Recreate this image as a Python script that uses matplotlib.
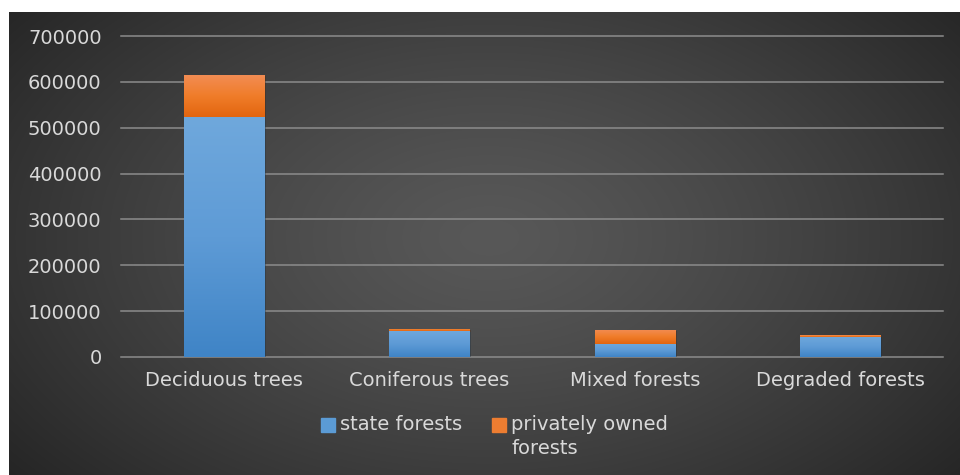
import numpy as np
import matplotlib
matplotlib.use("Agg")
import matplotlib.pyplot as plt
from matplotlib.patches import Rectangle
from matplotlib.colors import LinearSegmentedColormap
import matplotlib.patheffects as pe

# Forest area by type and ownership
categories = ["Deciduous trees", "Coniferous trees", "Mixed forests", "Degraded forests"]
state_forests = [523000, 57000, 28500, 44300]
private_forests = [93000, 4500, 31000, 2800]
yticks = [0, 100000, 200000, 300000, 400000, 500000, 600000, 700000]

text_color = "#d9d9d9"
font = "DejaVu Sans"
fsize = 14

fig = plt.figure(figsize=(9.6, 4.75), dpi=100, facecolor="white")

# dark panel with a soft radial highlight
bg = fig.add_axes([9 / 960, 0, 1 - 9 / 960, 1 - 12 / 475])
bg.set_axis_off()
h, w = 463, 951
yy, xx = np.mgrid[0:h, 0:w]
r = np.sqrt(((xx - 480) / 620.0) ** 2 + ((yy - 225) / 380.0) ** 2)
shade = 0.345 - (0.345 - 0.145) * np.clip(r, 0, 1) ** 1.3
bg.imshow(np.dstack([shade] * 3), extent=[0, 1, 0, 1], aspect="auto", origin="upper")

ax = fig.add_axes([121 / 960, 1 - 357 / 475, (943 - 121) / 960, (357 - 36) / 475])
ax.patch.set_alpha(0)

x = np.arange(len(categories))
width = 0.39
blue = ax.bar(x, state_forests, width, color="#5b9bd5", zorder=3,
              label="state forests",
              path_effects=[pe.SimplePatchShadow(offset=(1.5, -1), alpha=0.35), pe.Normal()])
orange = ax.bar(x, private_forests, width, bottom=state_forests, color="#ed7d31",
                zorder=3, label="privately owned forests",
                path_effects=[pe.SimplePatchShadow(offset=(1.5, -1), alpha=0.35), pe.Normal()])

# vertical gradient inside each bar segment
blue_cm = LinearSegmentedColormap.from_list("b", ["#3f84c6", "#5e9bd6", "#6fa8dc"])
orange_cm = LinearSegmentedColormap.from_list("o", ["#e2650f", "#f07d2a", "#f28d55"])
grad = np.linspace(0, 1, 256).reshape(-1, 1)
for bars, cm in ((blue, blue_cm), (orange, orange_cm)):
    for p in bars.patches:
        x0, y0 = p.get_x(), p.get_y()
        im = ax.imshow(grad, cmap=cm, origin="lower", aspect="auto", zorder=4,
                       extent=[x0, x0 + p.get_width(), y0, y0 + p.get_height()])
        im.set_clip_path(p)

ax.set_xlim(-0.5, len(categories) - 0.5)
ax.set_ylim(0, 700000)
ax.set_yticks(yticks)
ax.set_yticklabels([str(v) for v in yticks])
ax.set_xticks(x)
ax.set_xticklabels(categories)
ax.grid(axis="y", color="#8c8c8c", linewidth=1.1, zorder=1)
for gl in ax.get_ygridlines():
    gl.set_clip_on(False)
ax.tick_params(axis="both", length=0, colors=text_color, labelsize=fsize)
ax.tick_params(axis="y", pad=14)
ax.tick_params(axis="x", pad=10)
for lbl in ax.get_xticklabels() + ax.get_yticklabels():
    lbl.set_fontfamily(font)
for s in ax.spines.values():
    s.set_visible(False)

# legend below the plot
fig.patches.append(Rectangle((321 / 960, 1 - 432 / 475), 14 / 960, 14 / 475,
                             transform=fig.transFigure, color="#5b9bd5"))
fig.patches.append(Rectangle((492 / 960, 1 - 432 / 475), 14 / 960, 14 / 475,
                             transform=fig.transFigure, color="#ed7d31"))
fig.text(340 / 960, 1 - 425 / 475, "state forests", color=text_color,
         fontsize=fsize, family=font, va="center", ha="left")
fig.text(511 / 960, 1 - 425 / 475, "privately owned", color=text_color,
         fontsize=fsize, family=font, va="center", ha="left")
fig.text(511 / 960, 1 - 449 / 475, "forests", color=text_color,
         fontsize=fsize, family=font, va="center", ha="left")

fig.savefig("out.png", dpi=100, facecolor="white")
